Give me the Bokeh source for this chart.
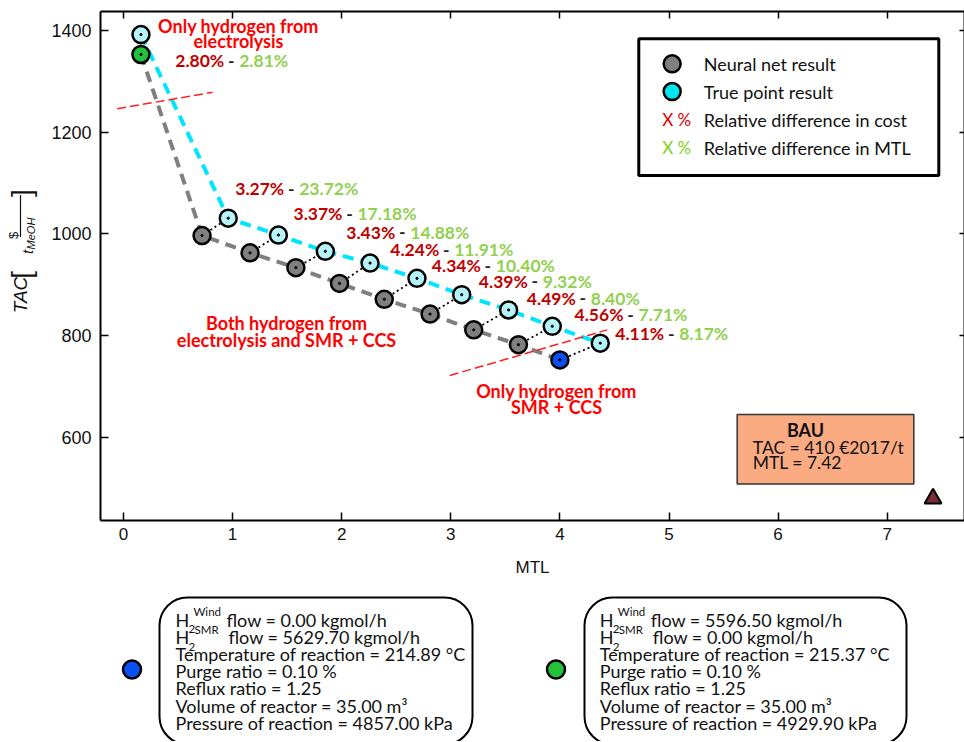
import math
from bokeh.plotting import figure
from bokeh.models import Range1d, LinearAxis, BoxAnnotation, FixedTicker, CustomJSTickFormatter
from bokeh.layouts import column, row
from bokeh.core.properties import value
from bokeh.embed import file_html
from bokeh.resources import INLINE

# ---------------- data ----------------
nn_mtl = [0.16, 0.72, 1.16, 1.58, 1.98, 2.39, 2.81, 3.21, 3.62, 4.00]
nn_tac = [1352, 997, 963, 934, 903, 872, 843, 812, 783, 753]
true_mtl = [0.16, 0.96, 1.42, 1.85, 2.26, 2.69, 3.10, 3.53, 3.93, 4.37]
true_tac = [1391, 1031, 998, 966, 943, 913, 881, 851, 819, 786]
cost_diff = ["2.80%", "3.27%", "3.37%", "3.43%", "4.24%", "4.34%", "4.39%", "4.49%", "4.56%", "4.11%"]
mtl_diff = ["2.81%", "23.72%", "17.18%", "14.88%", "11.91%", "10.40%", "9.32%", "8.40%", "7.71%", "8.17%"]
bau_mtl = [7.42]
bau_tac = [481]
x_ticks = [0, 1, 2, 3, 4, 5, 6, 7]
y_ticks = [600, 800, 1000, 1200, 1400]
legend_labels = ["Neural net result", "True point result",
                 "Relative difference in cost", "Relative difference in MTL"]
bau_title = "BAU"
bau_lines = ["TAC  = 410 €2017/t", "MTL = 7.42"]
region_top = ["Only hydrogen from", "electrolysis"]
region_mid = ["Both hydrogen from", "electrolysis and SMR + CCS"]
region_low = ["Only hydrogen from", "SMR + CCS"]
boundary_mtl = [[-0.058, 0.816], [2.99, 4.434]]
boundary_tac = [[1245.5, 1278], [722.5, 812]]
left_flows = ["flow = 0.00 kgmol/h", "flow = 5629.70 kgmol/h"]
left_rest = ["Temperature of reaction = 214.89 °C", "Purge ratio = 0.10 %", "Reflux ratio = 1.25",
             "Volume of reactor = 35.00 m³", "Pressure of reaction = 4857.00 kPa"]
right_flows = ["flow = 5596.50 kgmol/h", "flow = 0.00 kgmol/h"]
right_rest = ["Temperature of reaction = 215.37 °C", "Purge ratio = 0.10 %", "Reflux ratio = 1.25",
              "Volume of reactor = 35.00 m³", "Pressure of reaction = 4929.90 kPa"]

# ---------------- layout constants ----------------
pct_anchor_mtl = [0.987, 1.537, 2.071, 2.555, 2.958, 3.339, 3.770, 4.210, 4.647, 5.020]
pct_anchor_tac = [1340, 1089, 1040, 1003, 969, 938, 907, 874, 842, 804]

LATO = value("Lato")
ARIAL = "Liberation Sans"
RED = "#ff0000"
DRED = "#c00000"
LGREEN = "#92d050"
GRAY = "#7f7f7f"
CYAN_LINE = "#00e5ff"
CYAN_FILL = "#b5f3f8"
GREEN = "#22c23a"
BLUE = "#0a4ff2"

# ---------------- main figure ----------------
p = figure(width=916, height=580, x_range=Range1d(-0.2108, 7.7085), y_range=Range1d(438.2, 1436.3),
           output_backend="svg", toolbar_location=None, min_border_left=52, min_border_right=0,
           min_border_top=11, min_border_bottom=60)
p.grid.visible = False
p.outline_line_color = None
p.background_fill_color = "white"
p.border_fill_color = "white"

p.xaxis.ticker = FixedTicker(ticks=x_ticks)
p.yaxis.ticker = FixedTicker(ticks=y_ticks)
for ax in (p.xaxis[0], p.yaxis[0]):
    ax.major_tick_in = 8
    ax.major_tick_out = 0
    ax.minor_tick_line_color = None
    ax.axis_line_width = 2
    ax.major_tick_line_width = 1.5
    ax.major_label_text_font = ARIAL
    ax.major_label_text_color = "#111111"
p.xaxis.major_label_text_font_size = "17px"
p.yaxis.major_label_text_font_size = "18px"
p.xaxis.major_label_standoff = 7
p.yaxis.major_label_standoff = 9
p.xaxis.axis_label = "MTL"
p.xaxis.axis_label_text_font = ARIAL
p.xaxis.axis_label_text_font_style = "normal"
p.xaxis.axis_label_text_font_size = "17px"
p.xaxis.axis_label_text_color = "#111111"
p.xaxis.axis_label_standoff = 15

for loc, tk in (("above", x_ticks), ("right", y_ticks)):
    ax = LinearAxis(ticker=FixedTicker(ticks=tk), formatter=CustomJSTickFormatter(code="return ''"),
                    major_label_text_font_size="0px", major_label_standoff=0,
                    major_tick_in=7 if loc == "above" else 5, major_tick_out=0,
                    minor_tick_line_color=None, axis_line_width=2, major_tick_line_width=1.5)
    p.add_layout(ax, loc)

# legend box and BAU box (underlay)
legend_box = BoxAnnotation(left=4.723, right=7.473, top=1382.7, bottom=1114.7, fill_color="white",
                           fill_alpha=1, line_color="black", line_alpha=1, line_width=3, level="underlay")
bau_box = BoxAnnotation(left=5.625, right=7.244, top=646, bottom=510, fill_color="#fbab82",
                        fill_alpha=1, line_color="#333333", line_alpha=1, line_width=1.5, level="underlay")
p.add_layout(legend_box)
p.add_layout(bau_box)

# lines
p.line(nn_mtl, nn_tac, line_color=GRAY, line_width=4, line_dash="11 7")
p.line(true_mtl, true_tac, line_color=CYAN_LINE, line_width=4, line_dash="11 7")
p.segment(x0=nn_mtl, y0=nn_tac, x1=true_mtl, y1=true_tac, line_color="black",
          line_width=1.8, line_dash="2 3")
p.multi_line(boundary_mtl, boundary_tac, line_color="#ff2020", line_width=1.5, line_dash="9 4")

nn_colors = [GRAY] * len(nn_mtl)
nn_colors[0] = GREEN
nn_colors[-1] = BLUE
p.scatter(true_mtl, true_tac, size=17, fill_color=CYAN_FILL, line_color="black", line_width=2.5)
p.scatter(nn_mtl, nn_tac, size=17, fill_color=nn_colors, line_color="black", line_width=2.5)
p.scatter(true_mtl + nn_mtl, true_tac + nn_tac, size=2.2, color="black")

# BAU point
p.scatter(bau_mtl, bau_tac, marker="triangle", size=17, fill_color="#7b2d35",
          line_color="black", line_width=2)

# percentage labels
common = dict(text_font=LATO, text_font_style="bold", text_font_size="17.5px", text_baseline="middle")
p.text(pct_anchor_mtl, pct_anchor_tac, text=cost_diff, text_align="right", x_offset=-7,
       text_color=DRED, **common)
p.text(pct_anchor_mtl, pct_anchor_tac, text=["-"] * len(cost_diff), text_align="center",
       text_color="#222222", **common)
p.text(pct_anchor_mtl, pct_anchor_tac, text=mtl_diff, text_align="left", x_offset=8,
       text_color=LGREEN, **common)

# region labels
rcommon = dict(text_font=LATO, text_font_style="bold", text_font_size="18px", text_baseline="middle")
p.text([1.054, 1.054], [1408.8, 1378], text=region_top, text_align="center", text_color=RED, **rcommon)
p.text([1.494, 1.494], [824.5, 792.5], text=region_mid, text_align="center", text_color=RED, **rcommon)
p.text([3.969, 3.969], [693, 660.4], text=region_low, text_align="center", text_color=RED, **rcommon)

# legend content
leg_y = [1333.7, 1279.4, 1224, 1169]
p.scatter([5.029], [leg_y[0]], size=17, fill_color=GRAY, line_color="black", line_width=2.5)
p.scatter([5.029], [leg_y[1]], size=17, fill_color="#00e5ee", line_color="black", line_width=2.5)
p.text([5.319] * 4, leg_y, text=legend_labels, text_font=LATO, text_font_size="18px",
       text_baseline="middle", text_align="left", text_color="#111111")
p.text([4.937], [leg_y[2]], text=["X %"], text_font=LATO, text_font_size="17px",
       text_baseline="middle", text_align="left", text_color="#e00000")
p.text([4.937], [leg_y[3]], text=["X  %"], text_font=LATO, text_font_size="17px",
       text_baseline="middle", text_align="left", text_color="#7ed321")

# BAU text
p.text([6.251], [616], text=[bau_title], text_font=LATO, text_font_style="bold", text_font_size="18px",
       text_baseline="middle", text_align="center", text_color="#111111")
p.text([5.768, 5.768], [582, 552.5], text=bau_lines, text_font=LATO, text_font_size="17.5px",
       text_baseline="middle", text_align="left", text_color="#111111")

# ---------------- y label figure ----------------
yl = figure(width=48, height=580, x_range=Range1d(0, 48), y_range=Range1d(580, 0),
            output_backend="svg", toolbar_location=None, min_border=0,
            x_axis_location=None, y_axis_location=None)
yl.grid.visible = False
yl.outline_line_color = None
yl.border_fill_color = "white"
rot = math.pi / 2
ink = "#111111"
def vtext(x, y, s, size, style="normal"):
    yl.text([x], [y], text=[s], angle=rot, text_align="center", text_baseline="middle",
            text_font=value(ARIAL), text_font_style=style, text_font_size=size, text_color=ink)

vtext(20, 323, "TAC", "19px", "italic")
vtext(21, 300, "[", "28px")
vtext(13, 255, "$", "13px")
vtext(27, 274, "t", "15px", "italic")
vtext(30, 253, "MeOH", "11px", "italic")
vtext(21, 207, "]", "28px")
yl.segment(x0=[20], y0=[209], x1=[20], y1=[257], line_color=ink, line_width=1.2)

# ---------------- bottom info figure ----------------
b = figure(width=964, height=161, x_range=Range1d(0, 964), y_range=Range1d(741, 580),
           output_backend="svg", toolbar_location=None, min_border=0,
           x_axis_location=None, y_axis_location=None)
b.grid.visible = False
b.outline_line_color = None
b.border_fill_color = "white"

b.scatter([131.5], [669], size=18, fill_color=BLUE, line_color="black", line_width=2.5)
b.scatter([555.5], [669], size=18, fill_color=GREEN, line_color="black", line_width=2.5)

line_y = [619, 636, 653, 670, 687, 705, 722]
info_font = dict(text_font=LATO, text_baseline="middle", text_align="left", text_color="#111111")
for bx, box_left, box_right, flows, rest in ((175, 159, 472, left_flows, left_rest),
                                             (599.3, 584, 906, right_flows, right_rest)):
    b.add_layout(BoxAnnotation(left=box_left, right=box_right, top=597, bottom=744,
                               fill_color="white", fill_alpha=1, line_color="black", line_alpha=1,
                               line_width=2, border_radius=28, level="underlay"))
    b.text([bx, bx], line_y[:2], text=["H", "H"], text_font_size="18px", **info_font)
    b.text([bx + 13, bx + 13], [line_y[0] + 9, line_y[1] + 10], text=["2", "2"],
           text_font_size="11.5px", **info_font)
    b.text([bx + 18, bx + 19], [line_y[0] - 8, line_y[1] - 7], text=["Wind", "SMR"],
           text_font_size="11.5px", **info_font)
    b.text([bx + 51, bx + 53], line_y[:2], text=flows, text_font_size="18px", **info_font)
    b.text([bx] * len(rest), line_y[2:], text=rest, text_font_size="18px", **info_font)

layout = column(row(yl, p), b)
open("out.html", "w").write(file_html(layout, INLINE))
